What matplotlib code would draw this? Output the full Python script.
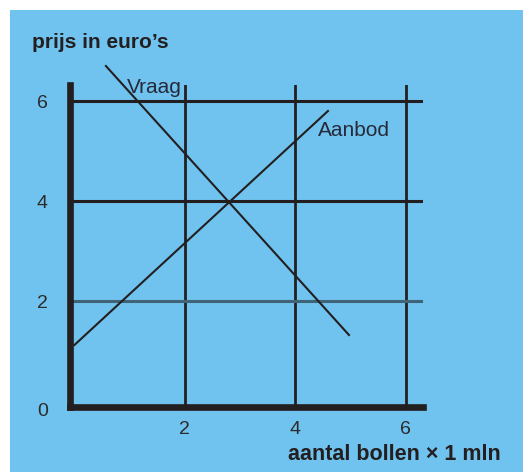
import matplotlib
matplotlib.use("Agg")
import matplotlib.pyplot as plt
from matplotlib.patches import Rectangle
from matplotlib.transforms import ScaledTranslation

plt.rcParams['font.family'] = ['Liberation Sans', 'DejaVu Sans']

# data
vraag_x = [0.57, 4.97]
vraag_y = [6.70, 1.32]
aanbod_x = [0.0, 4.59]
aanbod_y = [1.12, 5.80]
x_ticks = [2, 4, 6]
y_ticks = [0, 2, 4, 6]

blue = '#70c3ee'
ink = '#231f20'

W, H = 523, 472
fig = plt.figure(figsize=(W / 100, H / 100), dpi=100)
fig.patch.set_facecolor('white')
fig.patches.append(Rectangle((10 / W, 0), 1, (H - 10) / H, transform=fig.transFigure,
                             facecolor=blue, edgecolor='none', zorder=-10))

# axes box: x 70..423 px, y 407..85 px (from top)
ax = fig.add_axes([70 / W, (H - 407) / H, (423 - 70) / W, (407 - 85) / H])
ax.set_facecolor('none')
ax.set_xlim(-0.08, 6.31)
ax.set_ylim(-0.12, 6.32)

for s in ['top', 'right']:
    ax.spines[s].set_visible(False)
for s in ['left', 'bottom']:
    ax.spines[s].set_linewidth(4.8)
    ax.spines[s].set_color(ink)
    ax.spines[s].set_capstyle('projecting')

# grid
for v in x_ticks:
    ax.axvline(v, color=ink, lw=2.0, zorder=1)
for v in y_ticks[1:]:
    c = '#3f6477' if v == 2 else ink
    ax.axhline(v, color=c, lw=2.2, zorder=1)

ax.plot(vraag_x, vraag_y, color=ink, lw=1.5, clip_on=False, zorder=3)
ax.plot(aanbod_x, aanbod_y, color=ink, lw=1.5, clip_on=False, zorder=3)

ax.text(0.95, 6.28, 'Vraag', fontsize=15, color='#262a3a', va='center', ha='left')
ax.text(4.4, 5.42, 'Aanbod', fontsize=15, color='#262a3a', va='center', ha='left')

ax.set_xticks(x_ticks)
ax.set_yticks(y_ticks)
ax.tick_params(axis='x', length=0, pad=10, labelsize=14, labelcolor='#2b2b2b')
ax.set_yticklabels([str(v) for v in y_ticks], ha='center')
ax.tick_params(axis='y', length=0, pad=20, labelsize=14, labelcolor='#2b2b2b')

# the "0" sits level with the thick bottom axis
lab0 = ax.get_yticklabels()[0]
lab0.set_transform(lab0.get_transform() + ScaledTranslation(0, -6 / 72, fig.dpi_scale_trans))

fig.text(32 / W, 1 - 42 / H, 'prijs in euro\u2019s', fontsize=15, fontweight='bold',
         color=ink, va='center', ha='left')
fig.text(288 / W, 1 - 455 / H, 'aantal bollen \u00d7 1 mln', fontsize=15.5, fontweight='bold',
         color=ink, va='center', ha='left')

fig.savefig('out.png', dpi=100, facecolor=fig.get_facecolor())
